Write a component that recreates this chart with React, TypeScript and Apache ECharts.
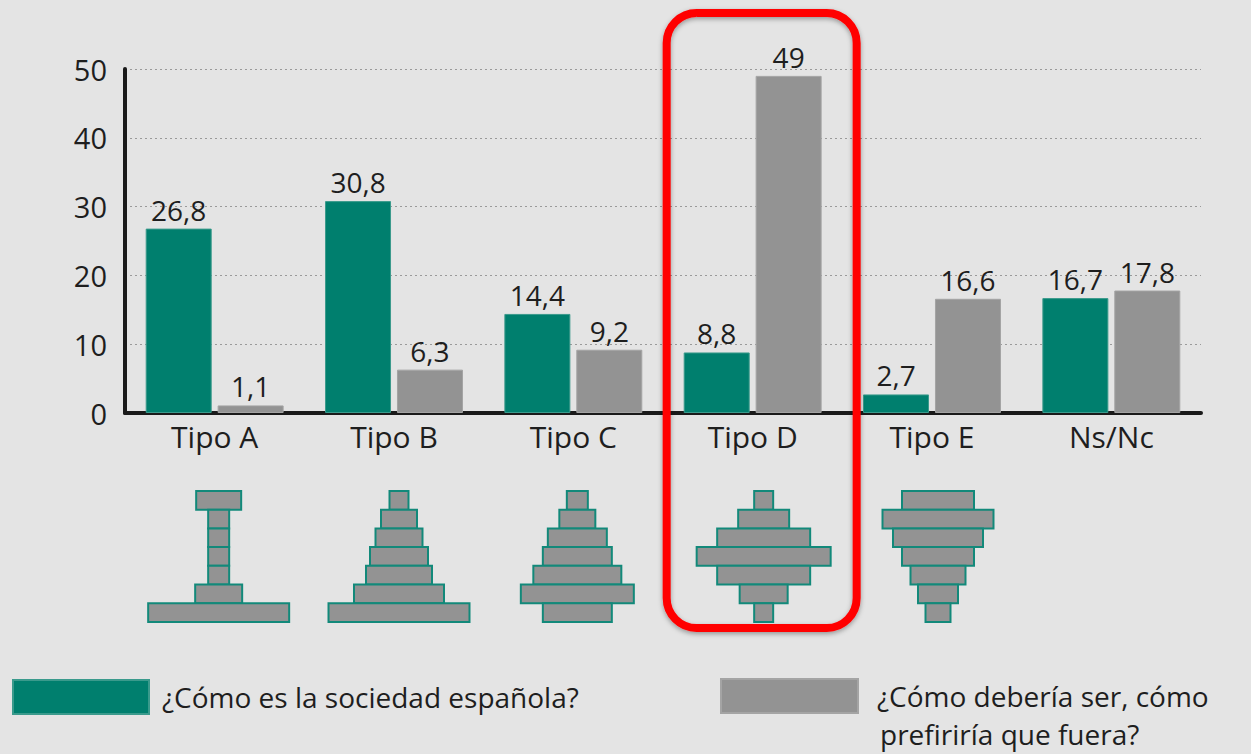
import React, { useEffect, useRef } from "react";
import * as echarts from "echarts";

const categories = ["Tipo A", "Tipo B", "Tipo C", "Tipo D", "Tipo E", "Ns/Nc"];
const seriesNames = ["¿Cómo es la sociedad española?", "¿Cómo debería ser, cómo prefiriría que fuera?"];
const actualValues = [26.8, 30.8, 14.4, 8.8, 2.7, 16.7];
const preferredValues = [1.1, 6.3, 9.2, 49, 16.6, 17.8];
const yTicks = [0, 10, 20, 30, 40, 50];

// Pyramid silhouettes (row widths from top to bottom) for Tipo A..E
const pyramidA = [45, 21, 21, 21, 21, 47, 141];
const pyramidB = [19, 36, 47, 58, 66, 90, 141];
const pyramidC = [21, 36, 59, 69, 88, 113, 69];
const pyramidD = [19, 51, 93, 134, 93, 48, 19];
const pyramidE = [72, 111, 90, 72, 55, 40, 25];
const pyramids = [pyramidA, pyramidB, pyramidC, pyramidD, pyramidE];

const TEAL = "#007f6e";
const GRAY = "#939393";
const BG = "#e4e4e4";
const TXT = "#1e1e1e";
const FONT = "'Open Sans', 'Noto Sans', sans-serif";

const fmt = (v: number) => String(v).replace(".", ",");

export default function App() {
  const ref = useRef<HTMLDivElement>(null);
  useEffect(() => {
    if (!ref.current) return;
    const chart = echarts.init(ref.current, null, { renderer: "svg" });
    const label = {
      show: true,
      position: "top",
      distance: 5,
      color: TXT,
      fontSize: 28,
      fontFamily: FONT,
      formatter: (p: any) => fmt(p.value),
    };
    chart.setOption({
      animation: false,
      backgroundColor: BG,
      grid: { left: 125, right: 50, top: 69, bottom: 341, containLabel: false },
      legend: [
        {
          data: [seriesNames[0]],
          left: 12,
          top: 679,
          padding: 0,
          itemWidth: 136,
          itemHeight: 34,
          icon: "rect",
          textStyle: { fontSize: 28, lineHeight: 30, fontFamily: FONT, color: TXT, padding: [0, 0, 0, 8] },
          selectedMode: false,
        },
        {
          data: [seriesNames[1]],
          left: 720,
          top: 678,
          padding: 0,
          itemWidth: 137,
          itemHeight: 34,
          icon: "rect",
          formatter: () => "¿Cómo debería ser, cómo",
          textStyle: { fontSize: 28, lineHeight: 30, fontFamily: FONT, color: TXT, padding: [0, 0, 0, 14] },
          selectedMode: false,
        },
      ],
      xAxis: {
        type: "category",
        data: categories,
        axisLine: { lineStyle: { color: "#1a1a1a", width: 4 } },
        axisTick: { inside: true, length: 8, lineStyle: { color: "#1a1a1a", width: 4 } },
        axisLabel: { fontSize: 30, fontFamily: FONT, color: TXT, margin: 8 },
      },
      yAxis: {
        type: "value",
        min: yTicks[0],
        max: yTicks[yTicks.length - 1],
        interval: 10,
        axisLine: { show: true, lineStyle: { color: "#1a1a1a", width: 4 } },
        axisTick: { show: false },
        axisLabel: { fontSize: 29, fontFamily: FONT, color: TXT, margin: 18 },
        splitLine: { lineStyle: { color: "#9a9a9a", type: [2, 3], width: 1 } },
      },
      series: [
        {
          name: seriesNames[0],
          type: "bar",
          data: actualValues,
          barWidth: 66,
          barGap: "9%",
          itemStyle: { color: TEAL, borderColor: "#3a9a8c", borderWidth: 1 },
          label,
        },
        {
          name: seriesNames[1],
          type: "bar",
          data: preferredValues,
          barWidth: 66,
          itemStyle: { color: GRAY, borderColor: "#a4a4a4", borderWidth: 1 },
          label,
        },
      ],
    });

    const shifts = [4, 5, 4, 11, 6];
    const rowTop = 491;
    const rowH = 18.7;
    const elements: any[] = [];
    pyramids.forEach((rows, i) => {
      const cx = (chart.convertToPixel({ xAxisIndex: 0 }, categories[i]) as number) + shifts[i];
      rows.forEach((w, j) => {
        elements.push({
          type: "rect",
          shape: { x: cx - w / 2, y: rowTop + j * rowH, width: w, height: rowH },
          style: { fill: GRAY, stroke: "#12897a", lineWidth: 2 },
          z: 10,
        });
      });
    });
    const dx = (chart.convertToPixel({ xAxisIndex: 0 }, categories[3]) as number) + 9;
    elements.push({
      type: "rect",
      shape: { x: dx - 95, y: 13, width: 190, height: 615, r: 30 },
      style: {
        fill: "none",
        stroke: "#ff0000",
        lineWidth: 8,
        shadowBlur: 5,
        shadowColor: "rgba(0,0,0,0.35)",
        shadowOffsetY: 2,
      },
      z: 20,
    });
    elements.push({
      type: "text",
      left: 880,
      top: 719,
      style: { text: "prefiriría que fuera?", fontSize: 28, lineHeight: 30, fontFamily: FONT, fill: TXT },
      z: 10,
    });
    chart.setOption({ graphic: elements });
    return () => chart.dispose();
  }, []);
  return (
    <div
      ref={ref}
      style={{ position: "fixed", left: 0, top: 0, width: 1251, height: 754 }}
    />
  );
}
